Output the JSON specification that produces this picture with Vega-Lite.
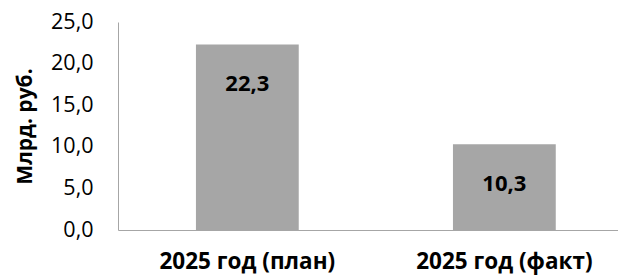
{
  "$schema": "https://vega.github.io/schema/vega-lite/v6.json",
  "width": 500,
  "height": 208,
  "autosize": {"type": "none"},
  "padding": {"left": 118, "top": 22, "right": 0, "bottom": 46},
  "background": "white",
  "config": {
    "view": {"stroke": null},
    "font": "Open Sans",
    "locale": {"number": {"decimal": ",", "thousands": " ", "grouping": [3], "currency": ["", " ₽"]}}
  },
  "data": {
    "values": [
      {"category": "2025 год (план)", "value": 22.3},
      {"category": "2025 год (факт)", "value": 10.3}
    ]
  },
  "encoding": {
    "x": {
      "field": "category",
      "type": "nominal",
      "sort": null,
      "scale": {"paddingInner": 0.6, "paddingOuter": 0.2727, "align": 0.556},
      "axis": {
        "title": null,
        "labelAngle": 0,
        "labelFontSize": 22.5,
        "labelFontWeight": "bold",
        "labelColor": "#000000",
        "labelPadding": 20,
        "ticks": false,
        "domainColor": "#a6a6a6",
        "domainWidth": 1
      }
    },
    "y": {
      "field": "value",
      "type": "quantitative",
      "scale": {"domain": [0, 25]},
      "axis": {
        "title": "Млрд. руб.",
        "titleFontSize": 21,
        "titleFontWeight": "bold",
        "titleColor": "#000000",
        "titlePadding": 15,
        "values": [0, 5, 10, 15, 20, 25],
        "format": ".1f",
        "labelFontSize": 21.5,
        "labelColor": "#000000",
        "labelPadding": 25,
        "ticks": false,
        "grid": false,
        "domainColor": "#a6a6a6",
        "domainWidth": 1
      }
    }
  },
  "layer": [
    {"mark": {"type": "bar", "color": "#a6a6a6"}},
    {
      "mark": {"type": "text", "dy": 40, "fontWeight": "bold", "fontSize": 22, "baseline": "middle", "color": "#000000"},
      "encoding": {"text": {"field": "value", "type": "quantitative", "format": ".1f"}}
    }
  ]
}
